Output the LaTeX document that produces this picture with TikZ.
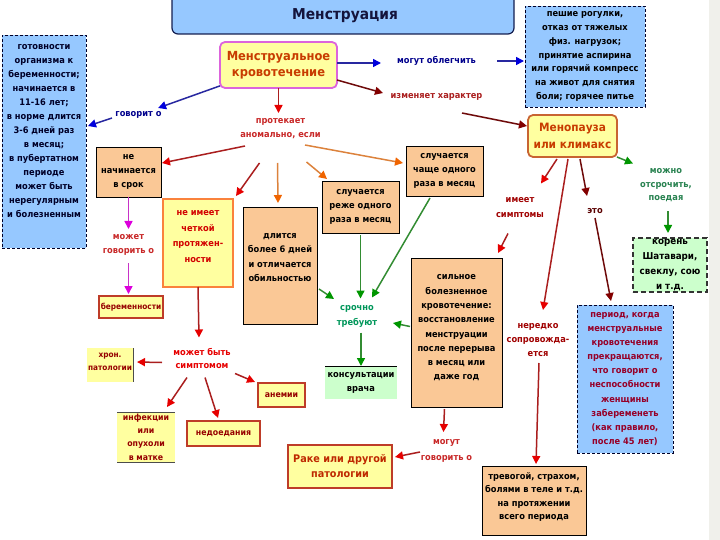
\documentclass[tikz,border=0pt]{standalone}
\usepackage{fontspec}
\setmainfont{DejaVu Sans}[FakeStretch=0.92]
\usetikzlibrary{arrows.meta}
\definecolor{bluefill}{RGB}{150,200,255}
\definecolor{peach}{RGB}{250,200,150}
\definecolor{lyellow}{RGB}{255,255,160}
\definecolor{lgreen}{RGB}{204,255,204}
\definecolor{stripgray}{RGB}{240,240,235}
\definecolor{titletxt}{RGB}{20,20,60}
\definecolor{navytxt}{RGB}{0,0,40}
\definecolor{menstxt}{RGB}{200,60,0}
\definecolor{rakecol}{RGB}{190,40,0}
\definecolor{chetktxt}{RGB}{210,0,0}
\definecolor{dredtxt}{RGB}{150,0,0}
\definecolor{periodtxt}{RGB}{150,0,40}
\definecolor{redlbl}{RGB}{200,40,40}
\definecolor{darklbl}{RGB}{160,0,0}
\definecolor{etolbl}{RGB}{90,0,0}
\definecolor{navylbl}{RGB}{0,0,140}
\definecolor{greenlbl}{RGB}{0,150,90}
\definecolor{greenlbl2}{RGB}{40,130,80}
\definecolor{menstborder}{RGB}{220,100,220}
\definecolor{menopborder}{RGB}{200,100,50}
\definecolor{yborder}{RGB}{190,60,40}
\definecolor{chetkborder}{RGB}{250,130,60}
\definecolor{titleborder}{RGB}{20,30,80}
\definecolor{shaftred}{RGB}{170,30,30}
\definecolor{tipred}{RGB}{230,0,0}
\definecolor{shaftblue}{RGB}{40,40,160}
\definecolor{tipblue}{RGB}{0,0,220}
\definecolor{shaftorange}{RGB}{220,130,60}
\definecolor{tiporange}{RGB}{240,100,0}
\definecolor{shaftgreen}{RGB}{50,140,50}
\definecolor{tipgreen}{RGB}{0,150,0}
\definecolor{shaftmag}{RGB}{200,50,200}
\definecolor{tipmag}{RGB}{220,0,220}
\definecolor{shaftmaroon}{RGB}{110,10,10}
\definecolor{tipmaroon}{RGB}{130,0,0}
\begin{document}
\begin{tikzpicture}[x=1pt,y=-1pt,
  every node/.style={inner sep=0pt, outer sep=0pt},
  t/.style={font=\bfseries\fontsize{9}{14}\selectfont, align=center},
  lbl/.style={font=\bfseries\fontsize{9}{14}\selectfont, align=center},
  bluebox/.style={fill=bluefill, draw=navytxt, dashed, dash pattern=on 3pt off 2pt, line width=0.9pt},
  peachbox/.style={fill=peach, draw=black, line width=0.9pt},
  ybox/.style={fill=lyellow, draw=yborder, line width=1.4pt},
  arr/.style={line width=1.5pt},
  redarr/.style={arr, draw=shaftred, -{Triangle[length=8pt,width=8pt,color=tipred]}},
  bluearr/.style={arr, draw=shaftblue, -{Triangle[length=8pt,width=8pt,color=tipblue]}},
  orangearr/.style={arr, draw=shaftorange, -{Triangle[length=8pt,width=8pt,color=tiporange]}},
  greenarr/.style={arr, draw=shaftgreen, -{Triangle[length=8pt,width=8pt,color=tipgreen]}},
  magarr/.style={arr, draw=shaftmag, -{Triangle[length=8pt,width=8pt,color=tipmag]}},
  maroonarr/.style={arr, draw=shaftmaroon, -{Triangle[length=8pt,width=8pt,color=tipmaroon]}}]
\useasboundingbox (0,0) rectangle (720,540);
\fill[stripgray] (709,0) rectangle (720,540);

% title
\node[fill=bluefill, draw=titleborder, line width=1.2pt, rounded corners=6pt, minimum width=342, minimum height=40] (title) at (343,14) {};
\node[font=\bfseries\fontsize{15}{18}\selectfont, text=titletxt] (titlet) at (345,16) {Менструация};

% left blue box
\node[bluebox, minimum width=84, minimum height=213] (lbox) at (44,141.5) {};
\node[t, text=navytxt] (lboxt) at (44,131.5) {готовности\\организма к\\беременности;\\начинается в\\11-16 лет;\\в норме длится\\3-6 дней раз\\в месяц;\\в пубертатном\\периоде\\может быть\\нерегулярным\\и болезненным};

% main node
\node[fill=lyellow, draw=menstborder, line width=1.8pt, rounded corners=5pt, minimum width=117, minimum height=46, align=center, font=\bfseries\fontsize{12.5}{16}\selectfont, text=menstxt] (menst) at (278.5,65) {Менструальное\\кровотечение};

% top right blue box
\node[bluebox, t, font=\bfseries\fontsize{9}{13.8}\selectfont, minimum width=120, minimum height=101, text=black] (rbox) at (585,56.5) {пешие рогулки,\\отказ от тяжелых\\физ. нагрузок;\\принятие аспирина\\или горячий компресс\\на живот для снятия\\боли; горячее питье};

% menopause
\node[fill=lyellow, draw=menopborder, line width=1.8pt, rounded corners=5pt, minimum width=89, minimum height=42, align=center, font=\bfseries\fontsize{11.5}{17}\selectfont, text=menstxt] (menop) at (572.5,136) {Менопауза\\или климакс};

% boxes
\node[peachbox, t, minimum width=65, minimum height=50] (nach) at (128.5,172) {не\\начинается\\в срок};

\node[fill=lyellow, draw=chetkborder, line width=1.5pt, minimum width=70, minimum height=88] (chetk) at (198,243) {};
\node[t, text=chetktxt, font=\bfseries\fontsize{9}{15.7}\selectfont] (chetkt) at (198,236.5) {не имеет\\четкой\\протяжен-\\ности};

\node[peachbox, minimum width=74, minimum height=117] (dlit) at (280,265.5) {};
\node[t, font=\bfseries\fontsize{9}{14.3}\selectfont] (dlitt) at (280,257.5) {длится\\более 6 дней\\и отличается\\обильностью};

\node[peachbox, t, minimum width=77, minimum height=52] (rezhe) at (360.5,207) {случается\\реже одного\\раза в месяц};
\node[peachbox, t, minimum width=77, minimum height=50] (chashe) at (444.5,171) {случается\\чаще одного\\раза в месяц};

\node[ybox, minimum width=64, minimum height=22, font=\bfseries\fontsize{8}{10}\selectfont, text=dredtxt] (beremen) at (131,307) {беременности};

\node[fill=lyellow, minimum width=46, minimum height=34] (hron) at (110,365) {};
\draw[black!70, line width=0.8pt] (hron.north east) -- (hron.south east);
\node[t, font=\bfseries\fontsize{8}{13}\selectfont, text=dredtxt] (hront) at (110,361.5) {хрон.\\патологии};

\node[fill=lyellow, minimum width=58, minimum height=50, align=center, font=\bfseries\fontsize{8.5}{13.3}\selectfont, text=dredtxt] (infek) at (146,437) {инфекции\\или\\опухоли\\в матке};
\draw[black!70, line width=0.8pt] (infek.north west) -- (infek.north east);
\draw[black!70, line width=0.8pt] (infek.south west) -- (infek.south east);

\node[ybox, minimum width=73, minimum height=25, font=\bfseries\fontsize{8.5}{10}\selectfont, text=dredtxt] (nedoed) at (223.5,433.5) {недоедания};
\node[ybox, minimum width=47, minimum height=24, font=\bfseries\fontsize{8.5}{10}\selectfont, text=dredtxt] (anemii) at (281.5,395) {анемии};

\node[fill=lgreen, t, minimum width=72, minimum height=33] (konsult) at (361,382.5) {консультации\\врача};
\draw[black, line width=0.9pt] (konsult.north west) -- (konsult.north east);

\node[peachbox, minimum width=91, minimum height=149] (silnoe) at (456.5,332.5) {};
\node[t, font=\bfseries\fontsize{9}{14.3}\selectfont] (silnoet) at (456.5,328) {сильное\\болезненное\\кровотечение:\\восстановление\\менструации\\после перерыва\\в месяц или\\даже год};

\node[ybox, minimum width=104, minimum height=43, align=center, font=\bfseries\fontsize{10.5}{15}\selectfont, text=rakecol] (rake) at (340,466.5) {Раке или другой\\патологии};

\node[fill=lgreen, draw=black!80, dashed, dash pattern=on 5pt off 3pt, line width=1.5pt, t, font=\bfseries\fontsize{9.5}{14.7}\selectfont, minimum width=74, minimum height=54] (koren) at (670,265) {корень\\Шатавари,\\свеклу, сою\\и т.д.};

\node[bluebox, t, font=\bfseries\fontsize{9}{14.1}\selectfont, text=periodtxt, minimum width=96, minimum height=148] (period) at (625,379) {период, когда\\менструальные\\кровотечения\\прекращаются,\\что говорит о\\неспособности\\женщины\\забеременеть\\(как правило,\\после 45 лет)};

\node[peachbox, minimum width=104, minimum height=69] (trevog) at (534,500.5) {};
\node[t, font=\bfseries\fontsize{9}{13.3}\selectfont] (trevogt) at (534,497) {тревогой, страхом,\\болями в теле и т.д.\\на протяжении\\всего периода};

% labels
\node[lbl, text=navylbl, minimum width=51, minimum height=14] (govorit) at (138.5,115) {говорит о};
\node[lbl, text=navylbl, minimum width=87, minimum height=14] (oblegch) at (436.5,61) {могут облегчить};
\node[lbl, text=shaftred, minimum width=103, minimum height=14] (izmen) at (436.5,97) {изменяет характер};
\node[lbl, text=redlbl, minimum width=89, minimum height=28] (protek) at (280.5,129) {протекает\\аномально, если};
\node[lbl, text=redlbl, minimum width=57, minimum height=28] (mozhgov) at (128.5,245) {может\\говорить о};
\node[lbl, text=tipred, font=\bfseries\fontsize{9}{13}\selectfont, minimum width=64, minimum height=26] (mozhsimp) at (202,358.5) {может быть\\симптомом};
\node[lbl, text=greenlbl, font=\bfseries\fontsize{9}{15}\selectfont, minimum width=44, minimum height=28] (srochno) at (357,316.5) {срочно\\требуют};
\node[lbl, text=redlbl, font=\bfseries\fontsize{9}{16}\selectfont, minimum width=57, minimum height=28] (mogutgov) at (446.5,451) {могут\\говорить о};
\node[lbl, text=darklbl, font=\bfseries\fontsize{9}{15}\selectfont, minimum width=50, minimum height=26] (imeet) at (520,207.5) {имеет\\симптомы};
\node[lbl, text=etolbl, minimum width=20, minimum height=14] (eto) at (595,211) {это};
\node[lbl, text=greenlbl2, font=\bfseries\fontsize{9}{13.5}\selectfont, minimum width=58, minimum height=40] (mozhno) at (666,185.5) {можно\\отсрочить,\\поедая};
\node[lbl, text=darklbl, minimum width=63, minimum height=40] (neredko) at (538,340) {нередко\\сопровожда-\\ется};

% connectors
\draw[bluearr] (menst) -- (govorit);
\draw[bluearr] ([shift={(-1,3)}]govorit.west) -- ([shift={(2,-15.5)}]lbox.east);
\draw[bluearr] ([shift={(0,-2)}]menst.east) -- ([shift={(-12,2)}]oblegch.west);
\draw[bluearr] ([shift={(17,0)}]oblegch.east) -- ([shift={(-1,4.5)}]rbox.west);
\draw[maroonarr] ([shift={(0,15)}]menst.east) -- ([shift={(-2,-4)}]izmen.west);
\draw[maroonarr] ([shift={(-26,9)}]izmen.south east) -- ([shift={(-1,-10)}]menop.west);
\draw[redarr] (menst.south) -- ([shift={(-2,-2)}]protek.north);
\draw[redarr] ([shift={(9,3)}]protek.south west) -- ([shift={(1,-9)}]nach.east);
\draw[redarr] ([shift={(-21,20)}]protek.south) -- ([shift={(3,-3)}]chetk.north east);
\draw[orangearr] ([shift={(-3,20)}]protek.south) -- ([shift={(-2,-4)}]dlit.north);
\draw[orangearr] ([shift={(26,19)}]protek.south) -- ([shift={(5,-2)}]rezhe.north west);
\draw[orangearr] ([shift={(-20,2)}]protek.south east) -- ([shift={(-3,-8)}]chashe.west);
\draw[magarr] (nach.south) -- ([shift={(0,-2)}]mozhgov.north);
\draw[magarr] ([shift={(0,4)}]mozhgov.south) -- ([shift={(-2.5,-2)}]beremen.north);
\draw[redarr] (chetk.south) -- ([shift={(-3,-8)}]mozhsimp.north);
\draw[redarr] ([shift={(-8,4)}]mozhsimp.west) -- ([shift={(4,-3)}]hron.east);
\draw[redarr] ([shift={(-15,6)}]mozhsimp.south) -- ([shift={(-8,-5)}]infek.north east);
\draw[redarr] ([shift={(3,6)}]mozhsimp.south) -- ([shift={(-5.5,-3)}]nedoed.north);
\draw[redarr] ([shift={(1,2)}]mozhsimp.south east) -- ([shift={(-3,-1)}]anemii.north west);
\draw[greenarr] ([shift={(2,23.5)}]dlit.east) -- ([shift={(-1,-17.5)}]srochno.west);
\draw[greenarr, shorten <=2pt, shorten >=4pt] (rezhe.south) -- (rezhe.south |- srochno.north);
\draw[greenarr] ([shift={(-14.5,2)}]chashe.south) -- ([shift={(-7,-5)}]srochno.north east);
\draw[greenarr] ([shift={(-1,-6)}]silnoe.west) -- ([shift={(14,6.5)}]srochno.east);
\draw[greenarr, shorten <=2pt] (srochno.south -| konsult.north) -- (konsult.north);
\draw[redarr] ([shift={(-12,2)}]silnoe.south) -- ([shift={(-3,-5)}]mogutgov.north);
\draw[redarr] ([shift={(2,1)}]mogutgov.west) -- ([shift={(3,-9.5)}]rake.east);
\draw[redarr] ([shift={(-15.5,2)}]menop.south) -- ([shift={(21,-11)}]imeet.north);
\draw[redarr] ([shift={(-12,13)}]imeet.south) -- ([shift={(-4,-5)}]silnoe.north east);
\draw[redarr] ([shift={(-4.5,2)}]menop.south) -- ([shift={(5,-10)}]neredko.north);
\draw[maroonarr] ([shift={(7.5,2)}]menop.south) -- ([shift={(-8,-8)}]eto.north);
\draw[maroonarr] (eto.south) -- ([shift={(-14,-4)}]period.north);
\draw[greenarr] (menop.south east) -- ([shift={(-4,-2)}]mozhno.north west);
\draw[greenarr] ([shift={(2,6)}]mozhno.south) -- ([shift={(-2,-5)}]koren.north);
\draw[redarr] ([shift={(1,3)}]neredko.south) -- ([shift={(2,-2)}]trevog.north);
\end{tikzpicture}
\end{document}
